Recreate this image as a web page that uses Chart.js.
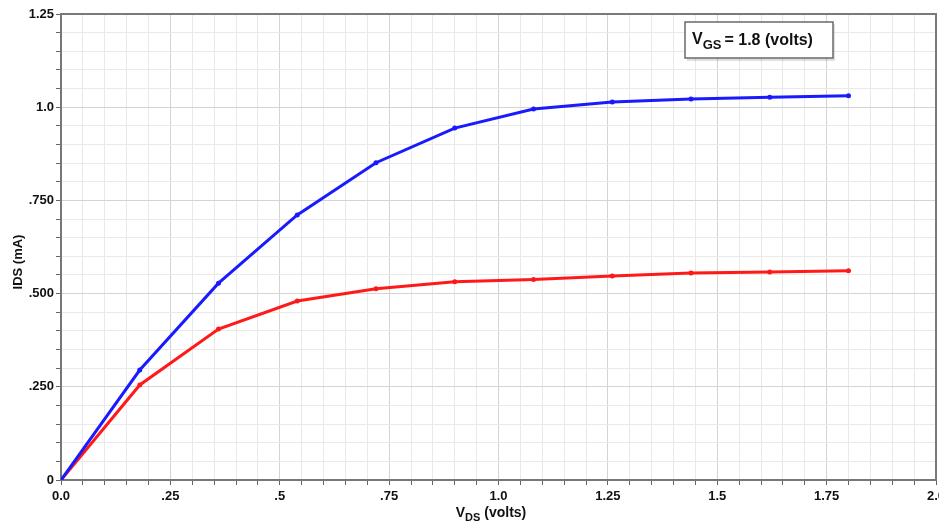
<!DOCTYPE html>
<html>
<head>
<meta charset="utf-8">
<script src="https://cdn.jsdelivr.net/npm/chart.js@4.4.0/dist/chart.umd.min.js"></script>
<style>
    html, body { margin: 0; padding: 0; background: #fff; overflow: hidden; }
    #wrap { width: 939px; height: 527px; overflow: hidden; }
</style>
</head>
<body>
<div id="wrap"><canvas id="ivChart" width="943" height="527"></canvas></div>
<script>
// ======== Data =========
const vds = [0, 0.18, 0.36, 0.54, 0.72, 0.9, 1.08, 1.26, 1.44, 1.62, 1.8];
const idsBlue = [0, 0.295, 0.528, 0.711, 0.851, 0.944, 0.995, 1.014, 1.022, 1.027, 1.031];
const idsRed = [0, 0.255, 0.405, 0.480, 0.513, 0.532, 0.538, 0.547, 0.555, 0.558, 0.561];

const xTickLabels = ['0.0', '.25', '.5', '.75', '1.0', '1.25', '1.5', '1.75', '2.0'];
const yTickLabels = ['0', '.250', '.500', '.750', '1.0', '1.25'];

const FONT = '"Liberation Sans", Arial, sans-serif';

// grid every 0.05, labels every 0.25
function buildTicks(scale) {
    const out = [];
    const n = Math.round((scale.max - scale.min) / 0.05);
    for (let i = 0; i <= n; i++) out.push({ value: scale.min + i * 0.05 });
    scale.ticks = out;
}
function stepIndex(v) { return Math.round(v / 0.05); }
function gridColor(ctx) {
    return stepIndex(ctx.tick.value) % 5 === 0 ? '#d4d4d4' : '#e9e9e9';
}

// draws frame, axis titles (with subscripts) and the V_GS box
const extras = {
    id: 'extras',
    afterDatasetsDraw(chart) {
        const c = chart.ctx;
        const a = chart.chartArea;
        c.save();
        // top / right frame
        c.strokeStyle = '#7a7a7a';
        c.lineWidth = 2;
        c.beginPath();
        c.moveTo(a.left, a.top);
        c.lineTo(a.right, a.top);
        c.lineTo(a.right, a.bottom);
        c.stroke();

        c.fillStyle = '#111';
        c.textBaseline = 'alphabetic';

        // x title: V_DS (volts)
        const big = 'bold 14px ' + FONT;
        const sub = 'bold 11px ' + FONT;
        c.font = big; const wV = c.measureText('V').width;
        c.font = sub; const wDS = c.measureText('DS').width;
        c.font = big; const wRest = c.measureText(' (volts)').width;
        let x = 491 - (wV + wDS + wRest) / 2;
        const yb = 517;
        c.font = big; c.fillText('V', x, yb); x += wV;
        c.font = sub; c.fillText('DS', x, yb + 4); x += wDS;
        c.font = big; c.fillText(' (volts)', x, yb);

        // y title
        c.save();
        c.translate(22, 262);
        c.rotate(-Math.PI / 2);
        c.font = 'bold 13px ' + FONT;
        c.textAlign = 'center';
        c.fillText('IDS (mA)', 0, 0);
        c.restore();

        // legend box
        c.fillStyle = 'rgba(0,0,0,0.12)';
        c.fillRect(687, 24, 148, 37);
        c.fillStyle = '#fff';
        c.fillRect(685, 22, 148, 36);
        c.strokeStyle = '#6a6a6a';
        c.lineWidth = 1.5;
        c.strokeRect(685, 22, 148, 36);
        c.fillStyle = '#111';
        const lb = 'bold 16px ' + FONT;
        const ls = 'bold 13px ' + FONT;
        let lx = 692;
        c.font = lb; c.fillText('V', lx, 44); lx += c.measureText('V').width;
        c.font = ls; c.fillText('GS', lx, 49); lx += c.measureText('GS').width + 3;
        c.font = lb; c.fillText('= 1.8 (volts)', lx, 45);
        c.restore();
    }
};

const ctx = document.getElementById('ivChart').getContext('2d');
const ivChart = new Chart(ctx, {
    type: 'line',
    data: {
        datasets: [{
            label: 'blue',
            data: vds.map((v, i) => ({ x: v, y: idsBlue[i] })),
            borderColor: '#1a1aff',
            backgroundColor: '#1010e0',
            borderWidth: 3,
            pointRadius: 1,
            tension: 0
        }, {
            label: 'red',
            data: vds.map((v, i) => ({ x: v, y: idsRed[i] })),
            borderColor: '#ff1a1a',
            backgroundColor: '#e01010',
            borderWidth: 3,
            pointRadius: 1,
            tension: 0
        }]
    },
    options: {
        responsive: false,
        animation: false,
        devicePixelRatio: 1,
        layout: { padding: { top: 14, right: 0, left: 0, bottom: 0 } },
        plugins: {
            legend: { display: false },
            tooltip: { enabled: false }
        },
        scales: {
            x: {
                type: 'linear',
                min: 0,
                max: 2,
                afterBuildTicks: buildTicks,
                afterFit(scale) {
                    scale.height = 47;
                    scale.paddingLeft = 0;
                    scale.paddingRight = 0;
                },
                border: { color: '#777', width: 2 },
                grid: { color: gridColor, tickColor: '#666', tickLength: 5 },
                ticks: {
                    autoSkip: false,
                    maxRotation: 0,
                    padding: 4,
                    color: '#111',
                    font: { family: FONT, size: 13, weight: 'bold' },
                    callback: v => {
                        const i = stepIndex(v);
                        return i % 5 === 0 ? xTickLabels[i / 5] : '';
                    }
                }
            },
            y: {
                type: 'linear',
                min: 0,
                max: 1.25,
                afterBuildTicks: buildTicks,
                afterFit(scale) {
                    scale.width = 61;
                    scale.paddingTop = 0;
                    scale.paddingBottom = 0;
                },
                border: { color: '#777', width: 2 },
                grid: { color: gridColor, tickColor: '#666', tickLength: 5 },
                ticks: {
                    autoSkip: false,
                    padding: 2,
                    color: '#111',
                    font: { family: FONT, size: 13, weight: 'bold' },
                    callback: v => {
                        const i = stepIndex(v);
                        return i % 5 === 0 ? yTickLabels[i / 5] : '';
                    }
                }
            }
        }
    },
    plugins: [extras]
});
</script>
</body>
</html>
